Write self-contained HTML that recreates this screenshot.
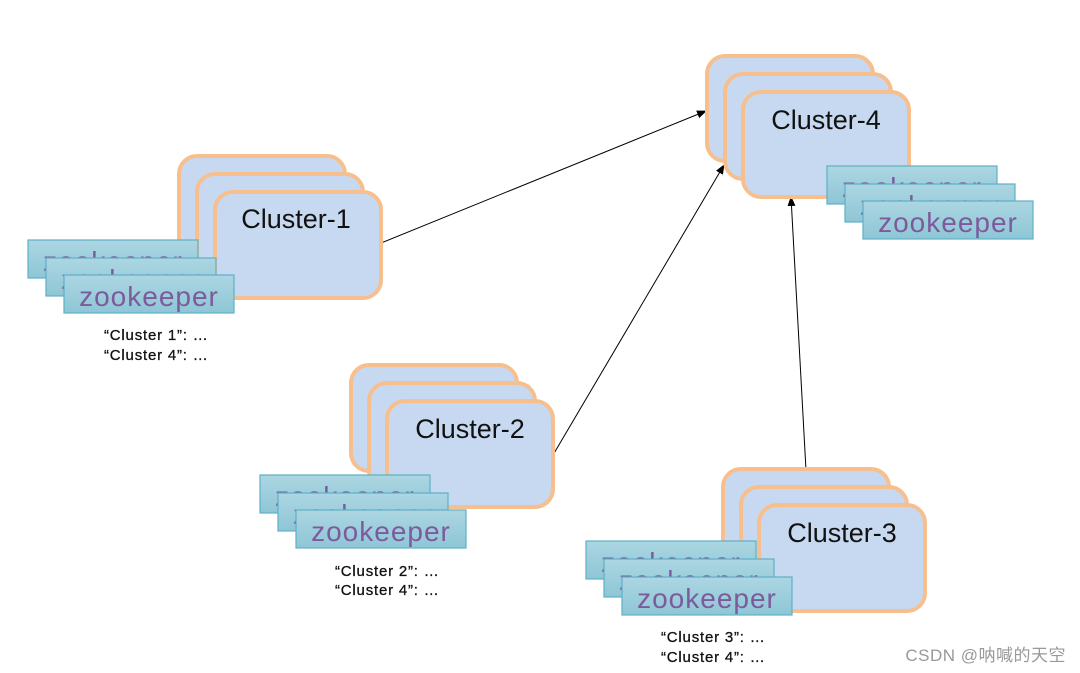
<!DOCTYPE html>
<html><head><meta charset="utf-8"><style>
html,body{margin:0;padding:0;background:#fff;}
svg{display:block}
.c{fill:#c6d9f0;stroke:#f8bf8e;stroke-width:4}
.z{fill:url(#zg);stroke:#5eb0c6;stroke-width:1.2}
.ct{font-family:"Liberation Sans",sans-serif;font-size:27px;fill:#111}
.zt{font-family:"Liberation Sans",sans-serif;font-size:28px;fill:#7d5a9c;letter-spacing:1px}
.nt{font-family:"Liberation Sans",sans-serif;font-size:15px;fill:#111;letter-spacing:0.8px;stroke:#111;stroke-width:0.3}
</style></head><body>
<svg width="1080" height="673" viewBox="0 0 1080 673" xmlns="http://www.w3.org/2000/svg">
<defs>
<linearGradient id="zg" x1="0" y1="0" x2="0" y2="1"><stop offset="0" stop-color="#acd6e2"/><stop offset="1" stop-color="#8ec6d6"/></linearGradient>
<marker id="ah" markerWidth="10" markerHeight="8" refX="9" refY="4" orient="auto" markerUnits="userSpaceOnUse"><path d="M0,0 L10,4 L0,8 z" fill="#000"/></marker>
</defs>
<g stroke="#000" stroke-width="1" marker-end="url(#ah)">
<line x1="381" y1="243" x2="706" y2="111"/>
<line x1="553" y1="455" x2="724" y2="165"/>
<line x1="806" y1="470" x2="791" y2="197"/>
</g>
<g>
<rect class="c" x="179" y="156" width="166" height="106" rx="18"/>
<rect class="c" x="197" y="174" width="166" height="106" rx="18"/>
<rect class="c" x="215" y="192" width="166" height="106" rx="18"/>
<text class="ct" x="296" y="228" text-anchor="middle">Cluster-1</text>
<rect class="z" x="28" y="240" width="170" height="38"/><text class="zt" x="113" y="271" text-anchor="middle">zookeeper</text>
<rect class="z" x="46" y="258" width="170" height="38"/><text class="zt" x="131" y="289" text-anchor="middle">zookeeper</text>
<rect class="z" x="64" y="275" width="170" height="38"/><text class="zt" x="149" y="306" text-anchor="middle">zookeeper</text>
<text class="nt" x="104" y="340">“Cluster 1”: …</text>
<text class="nt" x="104" y="360">“Cluster 4”: …</text>
</g>
<g>
<rect class="c" x="707" y="56" width="166" height="105" rx="18"/>
<rect class="c" x="725" y="74" width="166" height="105" rx="18"/>
<rect class="c" x="743" y="92" width="166" height="105" rx="18"/>
<text class="ct" x="826" y="129" text-anchor="middle">Cluster-4</text>
<rect class="z" x="827" y="166" width="170" height="38"/><text class="zt" x="912" y="197" text-anchor="middle">zookeeper</text>
<rect class="z" x="845" y="184" width="170" height="38"/><text class="zt" x="930" y="215" text-anchor="middle">zookeeper</text>
<rect class="z" x="863" y="201" width="170" height="38"/><text class="zt" x="948" y="232" text-anchor="middle">zookeeper</text>
</g>
<g>
<rect class="c" x="351" y="365" width="166" height="106" rx="18"/>
<rect class="c" x="369" y="383" width="166" height="106" rx="18"/>
<rect class="c" x="387" y="401" width="166" height="106" rx="18"/>
<text class="ct" x="470" y="438" text-anchor="middle">Cluster-2</text>
<rect class="z" x="260" y="475" width="170" height="38"/><text class="zt" x="345" y="506" text-anchor="middle">zookeeper</text>
<rect class="z" x="278" y="493" width="170" height="38"/><text class="zt" x="363" y="524" text-anchor="middle">zookeeper</text>
<rect class="z" x="296" y="510" width="170" height="38"/><text class="zt" x="381" y="541" text-anchor="middle">zookeeper</text>
<text class="nt" x="335" y="576">“Cluster 2”: …</text>
<text class="nt" x="335" y="595">“Cluster 4”: …</text>
</g>
<g>
<rect class="c" x="723" y="469" width="166" height="106" rx="18"/>
<rect class="c" x="741" y="487" width="166" height="106" rx="18"/>
<rect class="c" x="759" y="505" width="166" height="106" rx="18"/>
<text class="ct" x="842" y="542" text-anchor="middle">Cluster-3</text>
<rect class="z" x="586" y="541" width="170" height="38"/><text class="zt" x="671" y="572" text-anchor="middle">zookeeper</text>
<rect class="z" x="604" y="559" width="170" height="38"/><text class="zt" x="689" y="590" text-anchor="middle">zookeeper</text>
<rect class="z" x="622" y="577" width="170" height="38"/><text class="zt" x="707" y="608" text-anchor="middle">zookeeper</text>
<text class="nt" x="661" y="642">“Cluster 3”: …</text>
<text class="nt" x="661" y="662">“Cluster 4”: …</text>
</g>
<text x="1066" y="661" text-anchor="end" font-family="Liberation Sans, Noto Sans CJK SC, sans-serif" font-size="17" letter-spacing="0.5" fill="#999">CSDN @呐喊的天空</text>
</svg>
</body></html>
